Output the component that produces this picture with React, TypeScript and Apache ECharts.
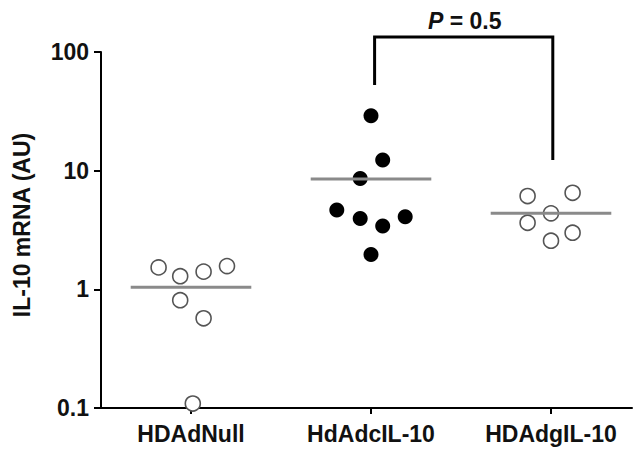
import React, { useEffect, useRef } from "react";
import * as echarts from "echarts";

const categories = ["HDAdNull", "HdAdcIL-10", "HDAdgIL-10"];
const groupPositions = [1, 2, 3];

const nullValues = [1.53, 1.29, 1.41, 1.57, 0.81, 0.57, 0.109];
const nullOffsets = [-0.18, -0.06, 0.07, 0.2, -0.06, 0.07, 0.01];

const cIL10Values = [29.0, 12.3, 8.6, 4.66, 3.96, 3.41, 4.09, 1.97];
const cIL10Offsets = [0, 0.065, -0.06, -0.19, -0.06, 0.065, 0.19, 0];

const gIL10Values = [6.11, 6.51, 4.37, 3.64, 3.0, 2.57];
const gIL10Offsets = [-0.13, 0.12, 0, -0.13, 0.12, 0];

const medians = [1.04, 8.5, 4.37];
const medianHalfWidth = 0.335;

const bracketX = [2.02, 3.01];
const bracketLeftBottom = 52.6;
const bracketTop = 133.6;
const bracketRightBottom = 12.3;

const FONT = "'Liberation Sans', Arial, sans-serif";
const FS = 23;

function pts(center: number, values: number[], offsets: number[]) {
  return values.map((v, i) => [center + offsets[i], v]);
}

export default function App() {
  const ref = useRef<HTMLDivElement>(null);
  useEffect(() => {
    if (!ref.current) return;
    const chart = echarts.init(ref.current, undefined, { renderer: "svg" });
    const openStyle = { color: "#ffffff", borderColor: "#555555", borderWidth: 1.6, opacity: 1 };
    const medianSeries = medians.map((m, i) => ({
      type: "line",
      data: [
        [groupPositions[i] - medianHalfWidth, m],
        [groupPositions[i] + medianHalfWidth, m],
      ],
      symbol: "none",
      lineStyle: { color: "#8a8a8a", width: 3 },
      z: 5,
      silent: true,
    }));
    chart.setOption({
      animation: false,
      grid: { left: 101, right: 5, top: 52, bottom: 48 },
      xAxis: {
        type: "value",
        min: 0.5,
        max: 3.45,
        splitLine: { show: false },
        axisLine: { show: true, lineStyle: { color: "#000", width: 2 } },
        axisTick: {
          show: true,
          customValues: groupPositions,
          length: 6,
          lineStyle: { color: "#000", width: 2 },
        },
        axisLabel: {
          customValues: groupPositions,
          formatter: (v: number) => categories[Math.round(v) - 1] ?? "",
          fontFamily: FONT,
          fontWeight: "bold",
          fontSize: FS,
          color: "#111",
          margin: 14,
        },
      },
      yAxis: {
        type: "log",
        logBase: 10,
        min: 0.1,
        max: 100,
        name: "IL-10 mRNA (AU)",
        nameLocation: "middle",
        nameGap: 68,
        nameTextStyle: {
          fontFamily: FONT,
          fontWeight: "bold",
          fontSize: FS,
          color: "#111",
          padding: [0, 0, 0, 10],
        },
        splitLine: { show: false },
        minorTick: { show: false },
        axisLine: { show: true, lineStyle: { color: "#000", width: 2 } },
        axisTick: { show: true, length: 7, lineStyle: { color: "#000", width: 2 } },
        axisLabel: {
          formatter: (v: number) => String(Number(v.toPrecision(3))),
          fontFamily: FONT,
          fontWeight: "bold",
          fontSize: FS,
          color: "#111",
          margin: 12,
        },
      },
      series: [
        {
          type: "scatter",
          data: pts(groupPositions[0], nullValues, nullOffsets),
          symbol: "circle",
          symbolSize: 15,
          itemStyle: openStyle,
          z: 3,
        },
        {
          type: "scatter",
          data: pts(groupPositions[1], cIL10Values, cIL10Offsets),
          symbol: "circle",
          symbolSize: 15,
          itemStyle: { color: "#000000", opacity: 1 },
          z: 3,
        },
        {
          type: "scatter",
          data: pts(groupPositions[2], gIL10Values, gIL10Offsets),
          symbol: "circle",
          symbolSize: 15,
          itemStyle: openStyle,
          z: 3,
        },
        ...medianSeries,
        {
          type: "line",
          data: [
            [bracketX[0], bracketLeftBottom],
            [bracketX[0], bracketTop],
            [bracketX[1], bracketTop],
            [bracketX[1], bracketRightBottom],
          ],
          symbol: "none",
          clip: false,
          lineStyle: { color: "#000", width: 3, join: "miter" },
          z: 6,
          silent: true,
        },
      ],
      graphic: [
        {
          type: "text",
          left: 428,
          top: 9,
          style: {
            rich: {
              p: {
                fontFamily: FONT,
                fontWeight: "bold",
                fontStyle: "italic",
                fontSize: FS,
                fill: "#111",
              },
              r: {
                fontFamily: FONT,
                fontWeight: "bold",
                fontSize: FS,
                fill: "#111",
              },
            },
            text: "{p|P}{r| = 0.5}",
          },
        },
      ],
    });
    return () => chart.dispose();
  }, []);
  return (
    <div
      ref={ref}
      style={{ position: "fixed", left: 0, top: 0, width: 637, height: 456, background: "#fff" }}
    />
  );
}
